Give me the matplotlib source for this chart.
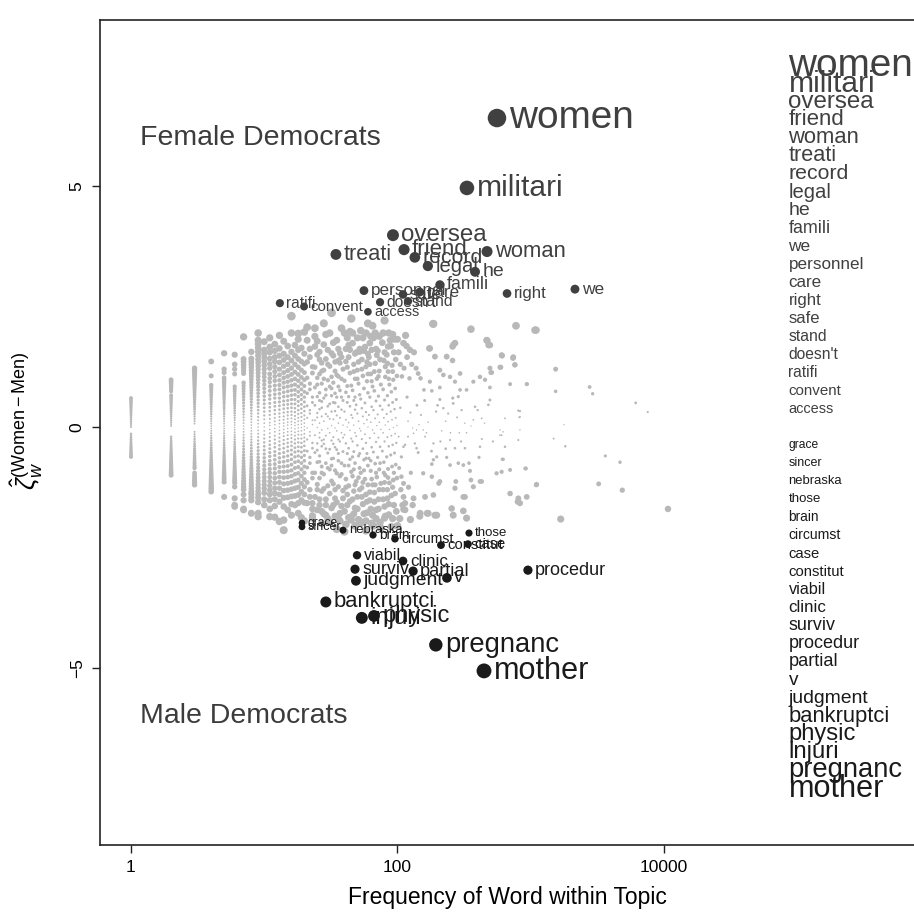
import numpy as np
import matplotlib
matplotlib.use("Agg")
import matplotlib.pyplot as plt
from matplotlib.ticker import NullLocator

plt.rcParams['font.family'] = ['Liberation Sans', 'DejaVu Sans']
plt.rcParams['mathtext.fontset'] = 'custom'
plt.rcParams['mathtext.rm'] = 'Liberation Sans'
plt.rcParams['mathtext.it'] = 'Liberation Sans:italic'

# ---------------- labelled words (frequency, zeta) ----------------
female_words = ["women", "militari", "oversea", "friend", "woman", "treati", "record", "legal", "he",
                "famili", "we", "personnel", "care", "right", "safe", "stand", "doesn't", "ratifi",
                "convent", "access"]
female_freq = [558, 332, 92.5, 112, 470, 34.5, 135, 169, 382,
               208, 2148, 56, 147, 664, 110, 120, 74, 13.1,
               19.9, 60]
female_zeta = [6.41, 4.96, 3.98, 3.68, 3.64, 3.58, 3.52, 3.34, 3.22,
               2.95, 2.86, 2.83, 2.80, 2.77, 2.75, 2.61, 2.59, 2.57,
               2.50, 2.39]

male_words = ["grace", "sincer", "nebraska", "those", "brain", "circumst", "case", "constitut", "viabil",
              "clinic", "surviv", "procedur", "partial", "v", "judgment", "bankruptci", "physic", "injuri",
              "pregnanc", "mother"]
male_freq = [19.2, 19.2, 39, 344, 65.5, 95.7, 338, 212, 49.7,
             110, 48, 953, 131, 235, 48.8, 29, 66.6, 54,
             194, 446]
male_zeta = [-1.99, -2.07, -2.14, -2.20, -2.24, -2.32, -2.43, -2.45, -2.66,
             -2.78, -2.95, -2.97, -2.99, -3.13, -3.19, -3.63, -3.92, -3.96,
             -4.52, -5.06]

# ---------------- unlabelled words: low-frequency columns ----------------
col_zeta = {
    1: [0.60, 0.56, 0.52, 0.48, 0.44, 0.40, 0.36, 0.32, 0.28, 0.24, 0.20, 0.16, 0.12, 0.08, 0.04, 0.00,
        -0.14, -0.18, -0.22, -0.26, -0.30, -0.34, -0.38, -0.42, -0.46, -0.50, -0.54, -0.58, -0.62],
    2: [0.98, 0.94, 0.90, 0.86, 0.82, 0.78, 0.74, 0.66, 0.62, 0.58, 0.54, 0.50, 0.46, 0.42, 0.38, 0.34,
        0.30, 0.26, 0.22, 0.18, 0.14, 0.10, 0.06, 0.02, -0.20, -0.24, -0.28, -0.32, -0.36, -0.40, -0.44,
        -0.48, -0.52, -0.56, -0.60, -0.64, -0.68, -0.72, -0.76, -0.80, -0.84, -0.88, -0.92, -0.96, -1.00],
    3: [1.22, 1.17, 1.12, 1.07, 1.02, 0.97, 0.92, 0.87, 0.82, 0.77, 0.72, 0.67, 0.62, 0.57, 0.52, 0.47,
        0.42, 0.37, 0.32, 0.27, 0.22, 0.17, 0.12, 0.07, -0.10, -0.15, -0.20, -0.25, -0.30, -0.35, -0.40,
        -0.45, -0.50, -0.55, -0.60, -0.65, -0.70, -0.75, -0.80, -0.85, -0.95, -1.00, -1.05, -1.10, -1.15, -1.20],
    4: [1.36, 1.06, 0.87, 0.82, 0.77, 0.72, 0.67, 0.62, 0.57, 0.52, 0.47, 0.42, 0.37, 0.32, 0.27, 0.22,
        0.17, 0.12, 0.07, 0.02, -0.03, -0.08, -0.13, -0.18, -0.23, -0.28, -0.33, -0.38, -0.43, -0.48,
        -0.53, -0.58, -0.63, -0.68, -0.73, -0.78, -0.83, -0.88, -0.93, -0.98, -1.03, -1.08, -1.13, -1.18,
        -1.23, -1.28, -1.34],
    5: [1.53, 1.20, 1.13, 1.02, 0.97, 0.92, 0.87, 0.82, 0.77, 0.72, 0.67, 0.62, 0.57, 0.52, 0.47, 0.42,
        0.37, 0.32, 0.27, 0.22, 0.17, 0.12, 0.07, 0.02, -0.03, -0.08, -0.13, -0.18, -0.23, -0.28, -0.33,
        -0.38, -0.43, -0.48, -0.53, -0.58, -0.63, -0.68, -0.73, -0.78, -0.83, -0.88, -0.93, -0.98, -1.03,
        -1.08, -1.14, -1.45],
    6: [1.50, 1.30, 1.20, 1.10, 0.84, 0.79, 0.74, 0.69, 0.64, 0.59, 0.54, 0.49, 0.44, 0.39, 0.34, 0.29,
        0.24, 0.19, 0.14, 0.09, 0.04, -0.01, -0.06, -0.11, -0.16, -0.21, -0.26, -0.31, -0.36, -0.41, -0.46,
        -0.51, -0.56, -0.61, -0.66, -0.71, -0.76, -0.81, -0.86, -0.91, -0.96, -1.01, -1.06, -1.11, -1.16,
        -1.24, -1.48, -1.62],
    7: [1.87, 1.41, 1.35, 1.29, 1.23, 1.17, 1.11, 0.92, 0.86, 0.80, 0.74, 0.68, 0.62, 0.56, 0.50, 0.44,
        0.38, 0.32, 0.26, 0.20, 0.14, 0.08, 0.02, -0.04, -0.10, -0.16, -0.22, -0.28, -0.34, -0.40, -0.46,
        -0.52, -0.58, -0.64, -0.70, -0.76, -0.82, -0.88, -0.94, -1.00, -1.06, -1.12, -1.18, -1.24, -1.30,
        -1.40, -1.52, -1.70],
    8: [1.56, 1.42, 1.36, 1.30, 1.24, 1.18, 1.12, 1.06, 1.00, 0.94, 0.88, 0.82, 0.76, 0.70, 0.64, 0.58,
        0.52, 0.46, 0.40, 0.34, 0.28, 0.22, 0.16, 0.10, 0.04, -0.02, -0.08, -0.14, -0.20, -0.26, -0.32,
        -0.38, -0.44, -0.50, -0.56, -0.62, -0.68, -0.74, -0.80, -0.86, -0.92, -0.98, -1.04, -1.10, -1.16,
        -1.22, -1.28, -1.34, -1.40, -1.46, -1.52, -1.79],
    9: [1.95, 1.80, 1.72, 1.64, 1.56, 1.48, 1.40, 1.33, 1.26, 1.19, 1.12, 1.05, 0.98, 0.91, 0.84, 0.77,
        0.70, 0.63, 0.56, 0.49, 0.42, 0.35, 0.28, 0.21, 0.14, 0.07, 0.00, -0.07, -0.14, -0.21, -0.28,
        -0.35, -0.42, -0.49, -0.56, -0.63, -0.70, -0.77, -0.84, -0.91, -0.98, -1.05, -1.12, -1.19, -1.26,
        -1.33, -1.40, -1.47, -1.56, -1.86],
    10: [1.77, 1.60, 1.52, 1.44, 1.36, 1.28, 1.20, 1.12, 1.04, 0.96, 0.88, 0.80, 0.72, 0.64, 0.56, 0.48,
         0.40, 0.32, 0.24, 0.16, 0.08, 0.00, -0.08, -0.16, -0.24, -0.32, -0.40, -0.48, -0.56, -0.64,
         -0.72, -0.80, -0.88, -0.96, -1.04, -1.12, -1.20, -1.28, -1.37, -1.50, -1.62],
    11: [1.85, 1.66, 1.55, 1.42, 1.31, 1.22, 1.10, 1.01, 0.93, 0.84, 0.75, 0.66, 0.58, 0.49, 0.41, 0.33,
         0.25, 0.17, 0.09, 0.03, -0.05, -0.13, -0.21, -0.29, -0.37, -0.45, -0.53, -0.61, -0.70, -0.78,
         -0.87, -0.95, -1.04, -1.13, -1.22, -1.31, -1.40, -1.52, -1.70, -1.86],
    12: [1.72, 1.58, 1.45, 1.36, 1.25, 1.15, 1.05, 0.96, 0.86, 0.77, 0.68, 0.60, 0.51, 0.43, 0.35, 0.27,
         0.19, 0.12, 0.05, -0.03, -0.10, -0.18, -0.26, -0.34, -0.42, -0.51, -0.59, -0.68, -0.77, -0.86,
         -0.96, -1.06, -1.16, -1.27, -1.38, -1.50, -1.64, -1.87],
    13: [1.90, 1.63, 1.48, 1.34, 1.20, 1.08, 0.97, 0.87, 0.78, 0.69, 0.60, 0.52, 0.44, 0.36, 0.28, 0.21,
         0.14, 0.07, 0.00, -0.07, -0.14, -0.22, -0.30, -0.38, -0.46, -0.55, -0.64, -0.73, -0.83, -0.93,
         -1.04, -1.15, -1.27, -1.40, -1.55, -1.96],
    14: [1.78, 1.52, 1.39, 1.26, 1.13, 1.02, 0.92, 0.82, 0.72, 0.63, 0.54, 0.46, 0.38, 0.30, 0.22, 0.15,
         0.08, 0.02, -0.05, -0.12, -0.19, -0.27, -0.35, -0.44, -0.53, -0.62, -0.72, -0.82, -0.93, -1.05,
         -1.18, -1.32, -1.47, -1.65, -1.93, -2.14],
    15: [1.68, 1.45, 1.30, 1.17, 1.05, 0.94, 0.84, 0.74, 0.64, 0.55, 0.47, 0.39, 0.31, 0.24, 0.17, 0.10,
         0.04, -0.03, -0.10, -0.17, -0.25, -0.33, -0.41, -0.50, -0.60, -0.70, -0.81, -0.92, -1.04, -1.17,
         -1.31, -1.46, -1.72],
    16: [2.30, 1.95, 1.56, 1.38, 1.22, 1.09, 0.97, 0.86, 0.76, 0.66, 0.57, 0.48, 0.40, 0.32, 0.25, 0.18,
         0.11, 0.05, -0.02, -0.09, -0.16, -0.23, -0.31, -0.39, -0.48, -0.57, -0.67, -0.78, -0.90, -1.02,
         -1.15, -1.29, -1.44, -1.60, -1.83],
    17: [1.70, 1.48, 1.30, 1.14, 1.00, 0.88, 0.77, 0.67, 0.57, 0.48, 0.39, 0.31, 0.23, 0.16, 0.09, 0.03,
         -0.04, -0.11, -0.18, -0.26, -0.34, -0.43, -0.52, -0.62, -0.73, -0.85, -0.98, -1.12, -1.27, -1.43,
         -1.62],
    18: [1.94, 1.82, 1.60, 1.41, 1.24, 1.09, 0.96, 0.84, 0.73, 0.63, 0.53, 0.44, 0.35, 0.27, 0.19, 0.12,
         0.05, -0.02, -0.09, -0.16, -0.24, -0.32, -0.41, -0.50, -0.60, -0.71, -0.83, -0.96, -1.10, -1.25,
         -1.41, -1.58, -1.79],
    19: [1.64, 1.36, 1.18, 1.03, 0.90, 0.78, 0.67, 0.57, 0.47, 0.38, 0.29, 0.21, 0.13, 0.06, -0.01, -0.08,
         -0.16, -0.24, -0.33, -0.42, -0.52, -0.63, -0.75, -0.88, -1.02, -1.17, -1.34, -1.52, -1.88],
    20: [1.97, 1.52, 1.31, 1.13, 0.98, 0.85, 0.73, 0.62, 0.52, 0.42, 0.33, 0.24, 0.16, 0.08, 0.01, -0.06,
         -0.14, -0.22, -0.30, -0.39, -0.49, -0.59, -0.70, -0.82, -0.95, -1.09, -1.24, -1.40, -1.57, -1.95],
}

# ---------------- unlabelled words: scattered cloud (frequency, zeta) ----------------
cloud_mid = [
    (21, 2.07), (22, 1.62), (21, 1.35), (23, 1.12), (22, 0.90), (21, 0.70), (23, 0.51), (22, 0.35), (21, 0.19),
    (23, 0.05), (22, -0.10), (21, -0.26), (23, -0.44), (22, -0.63), (21, -0.84), (23, -1.06), (22, -1.30),
    (21, -1.58), (23, -1.84), (23, -1.58), (23, -1.89),
    (24, 1.88), (25, 1.50), (24, 1.24), (25, 1.02), (24, 0.82), (25, 0.63), (24, 0.45), (25, 0.29), (24, 0.14),
    (25, -0.01), (24, -0.17), (25, -0.34), (24, -0.53), (25, -0.73), (24, -0.95), (25, -1.19), (24, -1.45),
    (25, -1.72), (24, 2.05), (24, 1.67),
    (26, 1.56), (27, 1.33), (26, 1.10), (27, 0.90), (26, 0.71), (27, 0.53), (26, 0.37), (27, 0.22), (26, 0.08),
    (27, -0.06), (26, -0.22), (27, -0.40), (26, -0.60), (27, -0.82), (26, -1.06), (27, -1.33), (26, -1.62),
    (27, -2.00),
    (28, 1.71), (29, 1.41), (28, 1.18), (30, 0.97), (29, 0.78), (28, 0.60), (30, 0.43), (29, 0.27), (28, 0.12),
    (30, -0.03), (29, -0.18), (28, -0.35), (30, -0.54), (29, -0.75), (28, -0.98), (30, -1.22), (29, -1.50),
    (28, -1.80), (30, 1.60), (29, -1.83),
    (31, 1.95), (32, 1.53), (31, 1.26), (32, 1.04), (31, 0.84), (32, 0.65), (31, 0.48), (32, 0.32), (31, 0.17),
    (32, 0.03), (31, -0.12), (32, -0.28), (31, -0.46), (32, -0.66), (31, -0.88), (32, -1.12), (31, -1.38),
    (32, -1.68), (31, -1.97), (32, 2.37),
    (33, 1.48), (34, 1.16), (33, 0.92), (34, 0.70), (33, 0.51), (34, 0.33), (33, 0.16), (34, -0.02), (33, -0.21),
    (34, -0.42), (33, -0.65), (34, -0.90), (33, -1.18), (34, -1.48),
    (35, 1.80), (36, 1.38), (35, 1.08), (36, 0.84), (35, 0.62), (36, 0.42), (35, 0.24), (36, 0.08), (35, -0.08),
    (36, -0.26), (35, -0.47), (36, -0.70), (35, -0.96), (36, -1.24), (35, -1.56), (36, -1.90),
    (37, 1.33), (38, 1.00), (37, 0.76), (39, 0.55), (38, 0.36), (37, 0.19), (39, 0.04), (38, -0.12), (37, -0.30),
    (39, -0.51), (38, -0.75), (37, -1.02), (39, -1.32), (38, -1.64), (37, 1.53), (37, -1.79),
    (40, 1.95), (41, 1.62), (42, 1.24), (40, 0.96), (41, 0.72), (42, 0.51), (40, 0.32), (41, 0.15), (42, 0.00),
    (40, -0.16), (41, -0.34), (42, -0.55), (40, -0.80), (41, -1.08), (42, -1.40), (40, -1.75), (41, -2.02),
    (40, -2.17),
    (43, 1.45), (44, 1.12), (45, 0.86), (43, 0.63), (44, 0.43), (45, 0.25), (43, 0.09), (44, -0.07), (45, -0.24),
    (43, -0.44), (44, -0.67), (45, -0.93), (43, -1.22), (44, -1.54), (45, -1.86), (44, 1.98), (44, 1.60),
    (45, -1.93),
    (46, 1.74), (47, 1.30), (48, 1.00), (46, 0.76), (47, 0.55), (48, 0.36), (46, 0.19), (47, 0.04), (48, -0.12),
    (46, -0.30), (47, -0.51), (48, -0.75), (46, -1.02), (47, -1.33), (48, -1.68),
    (49, 1.55), (50, 1.18), (51, 0.90), (52, 0.67), (49, 0.46), (50, 0.28), (51, 0.12), (52, -0.03), (49, -0.19),
    (50, -0.38), (51, -0.60), (52, -0.85), (49, -1.13), (50, -1.45), (51, -1.92), (52, 1.56),
    (53, 2.00), (54, 1.40), (55, 1.06), (56, 0.80), (53, 0.58), (54, 0.39), (55, 0.22), (56, 0.07), (53, -0.08),
    (54, -0.25), (55, -0.45), (56, -0.68), (53, -0.95), (54, -1.26), (55, -1.60), (53, -2.00),
    (57, 1.66), (58, 1.25), (59, 0.95), (60, 0.71), (57, 0.50), (58, 0.31), (59, 0.15), (60, 0.00), (57, -0.15),
    (58, -0.33), (59, -0.55), (60, -0.80), (57, -1.08), (58, -1.40), (59, -1.78),
    (61, 1.45), (63, 1.10), (65, 0.84), (62, 0.62), (64, 0.42), (61, 0.25), (63, 0.10), (65, -0.06), (62, -0.23),
    (64, -0.42), (61, -0.65), (63, -0.91), (65, -1.20), (62, -1.52), (62, 1.74), (65, -1.83),
    (66, 1.85), (68, 1.32), (70, 1.00), (67, 0.75), (69, 0.54), (66, 0.35), (68, 0.18), (70, 0.03), (67, -0.13),
    (69, -0.31), (66, -0.52), (68, -0.76), (70, -1.04), (67, -1.36), (69, -1.72), (66, -2.05), (70, 1.49),
    (71, 1.58), (73, 1.16), (75, 0.88), (72, 0.64), (74, 0.44), (71, 0.26), (73, 0.10), (75, -0.05), (72, -0.22),
    (74, -0.41), (71, -0.63), (73, -0.88), (75, -1.17), (72, -1.50),
    (77, 1.75), (79, 1.38), (81, 1.04), (78, 0.78), (80, 0.56), (77, 0.36), (79, 0.19), (81, 0.04), (78, -0.12),
    (80, -0.30), (77, -0.50), (79, -0.73), (81, -1.00), (78, -1.30), (80, -1.65), (80, 2.21), (80, -1.89),
    (83, 1.50), (85, 1.15), (87, 0.88), (84, 0.65), (86, 0.45), (83, 0.27), (85, 0.11), (87, -0.05), (84, -0.21),
    (86, -0.40), (83, -0.62), (85, -0.87), (87, -1.16), (84, -1.48), (86, -1.82), (85, 1.67), (88, 1.80),
    (89, 1.68), (91, 1.28), (93, 0.98), (90, 0.73), (92, 0.51), (89, 0.32), (91, 0.15), (93, -0.01), (90, -0.18),
    (92, -0.37), (89, -0.58), (91, -0.82), (93, -1.10), (90, -1.42), (90, -2.07),
    (95, 1.82), (97, 1.40), (99, 1.06), (96, 0.80), (98, 0.57), (95, 0.37), (97, 0.19), (99, 0.03), (96, -0.14),
    (98, -0.33), (95, -0.54), (97, -0.78), (99, -1.06), (96, -1.38), (98, -1.75),
    (7, -1.72), (9, -1.79), (12, -1.37), (8, -1.37), (6, -1.65), (18, 1.94),
]

cloud_extra = [
    (21, 1.80), (22, 1.45), (23, 1.25), (21, 1.02), (22, 0.78), (23, 0.62), (21, 0.44), (22, 0.28), (23, 0.14),
    (21, -0.02), (22, -0.18), (23, -0.33), (21, -0.50), (22, -0.75), (23, -0.95), (21, -1.15), (22, -1.45),
    (23, -1.70),
    (25, 1.78), (26, 1.40), (27, 1.16), (25, 0.88), (26, 0.55), (27, 0.40), (25, 0.20), (26, -0.12), (27, -0.28),
    (25, -0.48), (26, -0.72), (27, -0.95), (25, -1.30), (26, -1.50), (27, -1.75),
    (29, 1.92), (30, 1.30), (28, 1.00), (29, 0.66), (30, 0.22), (28, -0.26), (29, -0.45), (30, -0.85),
    (28, -1.28), (29, -1.62), (30, -1.90),
    (33, 1.75), (34, 1.35), (32, 0.80), (34, 0.50), (33, -0.35), (32, -0.80), (34, -1.30), (33, -1.62),
    (34, -1.85),
    (36, 1.62), (38, 1.45), (39, 1.20), (36, 1.05), (38, 0.62), (39, -0.22), (36, -0.55), (38, -0.98),
    (39, -1.48), (37, -1.95),
    (42, 1.85), (43, 1.70), (41, 1.36), (42, 0.85), (43, -0.80), (41, -1.25), (42, -1.62), (43, -1.88),
    (46, 1.95), (48, 1.52), (47, 1.15), (48, 0.62), (46, -0.62), (47, -0.88), (48, -1.20), (46, -1.50),
    (47, -1.80),
    (50, 1.85), (52, 1.62), (51, 1.35), (50, 1.00), (52, -0.55), (51, -1.05), (52, -1.30), (50, -1.70),
    (52, -1.95),
    (55, 1.85), (56, 1.58), (54, 1.20), (56, -0.90), (55, -1.15), (54, -1.45), (56, -1.80),
    (58, 1.95), (60, 1.52), (59, 1.35), (60, 1.10), (58, -0.65), (60, -1.20), (59, -1.55), (58, -1.95),
    (63, 1.88), (64, 1.60), (62, 1.30), (64, 0.95), (63, -0.70), (64, -1.08), (62, -1.35), (63, -1.70),
    (64, -2.00),
    (68, 1.95), (69, 1.62), (67, 1.15), (69, -0.95), (68, -1.20), (67, -1.55), (69, -1.90),
    (73, 1.88), (74, 1.40), (72, 1.05), (74, -0.75), (73, -1.30), (72, -1.70), (74, -1.98),
    (78, 1.95), (80, 1.55), (81, 1.25), (79, -0.95), (80, -1.15), (78, -1.50), (81, -1.85),
    (86, 1.95), (84, 1.32), (86, 1.00), (85, -1.05), (84, -1.30), (86, -1.60),
    (92, 1.92), (94, 1.55), (92, 1.15), (94, -0.95), (92, -1.25), (94, -1.62), (92, -1.90),
    (102, 1.55), (105, 1.30), (108, 1.05), (103, -0.85), (106, -1.30), (109, -1.62), (104, -1.90),
    (115, 1.90), (118, 1.45), (128, 1.30), (133, 1.55), (126, -0.95), (121, -1.25), (130, -1.62), (125, -1.92),
    (45, 2.25), (60, 2.15), (28, 2.15), (38, 2.05), (65, 2.10), (35, -2.12), (58, -2.15), (75, -2.10),
    (48, -2.05), (100, -2.05),
]

cloud_high = [
    (186, 2.14), (356, 2.03), (775, 2.10), (1076, 2.01), (111, 1.74), (124, 1.60), (175, 1.63), (262, 1.70),
    (472, 1.79), (494, 1.70), (191, 1.46), (234, 1.46), (259, 1.38), (605, 1.49), (740, 1.45), (762, 1.29),
    (588, 1.24), (494, 1.22), (510, 1.13), (112, 1.22), (138, 1.22), (143, 1.11), (123, 1.01), (149, 1.01),
    (208, 1.18), (221, 1.08), (248, 1.04), (270, 0.94), (295, 1.11), (175, 0.94), (208, 0.82), (371, 0.94),
    (416, 1.04), (454, 0.98), (494, 0.82), (330, 0.77), (295, 0.77), (286, 0.63), (208, 0.57), (158, 0.77),
    (181, 0.75), (700, 0.89), (933, 0.89), (494, 0.56), (481, 0.46), (382, 0.42), (262, 0.49), (221, 0.39),
    (303, 0.35), (807, 0.34), (830, 0.21), (641, 0.18), (428, 0.18), (371, 0.15), (356, 0.02), (588, -0.06),
    (588, -0.17), (830, -0.06), (807, -0.27), (641, -0.41), (416, -0.41), (330, -0.12), (291, -0.12),
    (248, -0.27), (321, -0.44), (270, -0.44), (186, -0.34), (161, -0.20), (156, -0.06), (139, -0.06),
    (132, -0.13), (120, -0.20), (114, -0.37), (135, -0.34), (139, -0.44), (143, -0.53), (186, -0.68),
    (181, -0.77), (197, -0.62), (234, -0.63), (248, -0.79), (286, -0.75), (312, -0.79), (344, -0.75),
    (350, -0.91), (409, -0.63), (622, -0.67), (920, -0.86), (605, -0.93), (554, -0.96), (700, -0.89),
    (111, -0.41), (107, -0.62), (107, -1.03), (111, -1.17), (156, -0.96), (181, -1.03), (208, -1.13),
    (274, -1.13), (270, -1.27), (356, -1.10), (428, -1.13), (371, -1.24), (111, -1.45), (132, -1.48),
    (161, -1.45), (186, -1.41), (312, -1.45), (700, -1.38), (807, -1.48), (933, -1.45), (830, -1.58),
    (1109, -1.19), (148, -1.79), (170, -1.79), (197, -1.83), (255, -1.69), (262, -1.83), (312, -1.74),
    (330, -1.89), (114, -1.58), (114, -1.72), (117, 1.68), (100, 1.82), (173, 1.63), (259, 1.67), (270, 1.74),
    (467, 1.80), (483, 1.70), (609, 1.48), (736, 1.43), (759, 1.29), (596, 1.24), (501, 1.13), (185, 2.14),
    (830, 0.33), (820, 0.20), (620, -0.10), (605, -0.17), (612, -0.67), (910, -0.86), (204, -1.17),
    (798, -1.55), (321, -1.45), (416, -1.13), (191, -1.83), (167, -1.79), (147, -1.85), (111, -1.71),
    (125, 0.30), (150, 0.25), (170, 0.10), (195, 0.32), (230, 0.12), (240, 0.28), (280, 0.20), (320, 0.08),
    (140, 0.45), (160, 0.55), (200, 0.45), (260, 0.60), (118, 0.62), (130, -0.02), (165, -0.12), (215, -0.08),
    (250, -0.12), (300, -0.30), (210, -0.30), (180, -0.50), (230, -0.45), (120, 0.12), (105, 0.40),
    (102, -0.20), (145, 0.05), (400, 0.35), (450, 0.08), (520, -0.30), (430, -0.25),
]

cloud_top = [
    (1538, 1.20), (1538, 0.74), (2768, 0.83), (2916, 0.69), (6134, 0.50), (7550, 0.31), (1778, 0.05),
    (1486, -0.24), (1818, -0.40), (3630, -0.60), (4677, -0.73), (3236, -1.18), (4866, -1.31),
    (10715, -1.70), (1679, -1.91), (1096, 2.01), (1101, -1.20), (937, 0.89),
]

# ---------------- assemble gray points ----------------
gx, gy = [], []
for f, zs in col_zeta.items():
    gx += [f] * len(zs)
    gy += zs
for pts in (cloud_mid, cloud_extra, cloud_high, cloud_top):
    gx += [p[0] for p in pts]
    gy += [p[1] for p in pts]
gx = np.array(gx, dtype=float)
gy = np.array(gy, dtype=float)

PX = 0.72  # points per pixel at dpi 100

def gray_size(x, y):
    d = 1.0 + 3.1 * np.abs(y) + 1.0 / (1 + np.log10(x))
    return (d * PX) ** 2

def dot_diam(z):
    return 1.2 + 2.7 * abs(z)

fig = plt.figure(figsize=(9.14, 9.15), dpi=100)
ax = fig.add_axes([100 / 914, 70 / 915, 815 / 914, 825 / 915])
ax.set_xscale('log')
ax.set_xlim(10 ** -0.2326, 10 ** 5.884)
ax.set_ylim(-8.672, 8.444)

ax.scatter(gx, gy, s=gray_size(gx, gy), c='#b8b8b8', edgecolors='none', zorder=1)

fem_col = '#404040'
male_col = '#1a1a1a'

def draw_group(words, freqs, zetas, col):
    for w, f, z in zip(words, freqs, zetas):
        d = dot_diam(z)
        ax.scatter([f], [z], s=(d * PX) ** 2, c=col, edgecolors='none', zorder=3)
        ax.annotate(w, (f, z), xytext=((d / 2 + 2.5) * PX, 0), textcoords='offset points',
                    ha='left', va='center', fontsize=4.36 * abs(z), color=col, zorder=4)

draw_group(female_words, female_freq, female_zeta, fem_col)
draw_group(male_words, male_freq, male_zeta, male_col)

# ranked word lists on the right
list_x = 8.6e4
fem_order = sorted(zip(female_zeta, female_words), reverse=True)
male_order = sorted(zip(male_zeta, male_words), reverse=True)
step = 0.375
for i, (z, w) in enumerate(fem_order):
    ax.text(list_x, 7.5 - i * step, w, ha='left', va='center', fontsize=4.36 * abs(z),
            color=fem_col, zorder=4, clip_on=False)
for i, (z, w) in enumerate(male_order):
    ax.text(list_x, -step - i * step, w, ha='left', va='center', fontsize=4.36 * abs(z),
            color=male_col, zorder=4, clip_on=False)

ax.text(1.16, 6.0, "Female Democrats", ha='left', va='center', fontsize=20.5, color='#3c3c3c')
ax.text(1.16, -6.0, "Male Democrats", ha='left', va='center', fontsize=20.5, color='#3c3c3c')

ax.set_xticks([1, 100, 10000])
ax.set_xticklabels(['1', '100', '10000'])
ax.xaxis.set_minor_locator(NullLocator())
ax.set_yticks([-5, 0, 5])
ax.set_yticklabels(['\u22125', '0', '5'])
ax.tick_params(axis='both', direction='out', length=6, width=1.0, labelsize=12.5, color='#222222')
ax.tick_params(axis='x', pad=5)
ax.tick_params(axis='y', pad=5, labelrotation=90)
for lab in ax.get_yticklabels():
    lab.set_va('center')

for sp in ax.spines.values():
    sp.set_linewidth(1.2)
    sp.set_color('#222222')

ax.set_xlabel("Frequency of Word within Topic", fontsize=16.5, labelpad=8)
ax.set_ylabel(r'$\hat{\zeta}_w^{(\mathrm{Women-Men})}$', fontsize=18.5)
ax.yaxis.set_label_coords(-0.068, 0.515)

fig.savefig("out.png", dpi=100)
